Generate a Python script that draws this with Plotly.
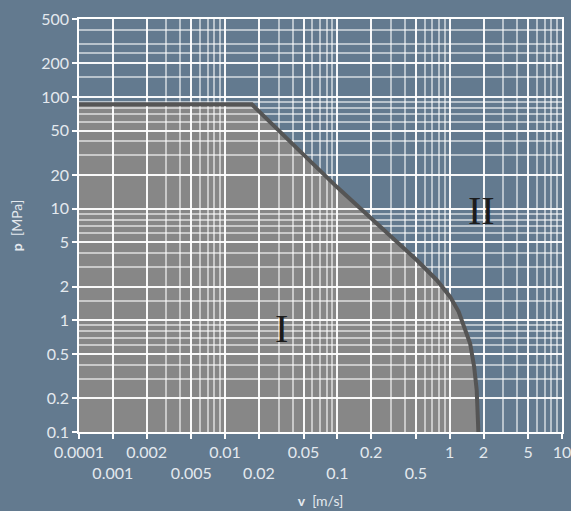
import numpy as np
import plotly.graph_objects as go

# ---- data ----
v_curve = [0.0005, 0.0173, 0.0986, 0.508, 0.766, 1.007, 1.20, 1.32, 1.52, 1.65, 1.74, 1.80]
p_curve = [86, 86, 15.7, 3.47, 2.30, 1.63, 1.2, 0.94, 0.62, 0.385, 0.238, 0.1]

x_major = [0.0005, 0.001, 0.002, 0.005, 0.01, 0.02, 0.05, 0.1, 0.2, 0.5, 1, 2, 5, 10]
x_labels = ["0.0001", "<br>0.001", "0.002", "<br>0.005", "0.01", "<br>0.02", "0.05",
            "<br>0.1", "0.2", "<br>0.5", "1", "2", "5", "10"]
x_minor = [0.003, 0.004, 0.006, 0.007, 0.008, 0.009,
           0.03, 0.04, 0.06, 0.07, 0.08, 0.09,
           0.3, 0.4, 0.6, 0.7, 0.8, 0.9,
           3, 4, 6, 7, 8, 9]

y_major = [0.1, 0.2, 0.5, 1, 2, 5, 10, 20, 50, 100, 200, 500]
y_labels = ["0.1", "0.2", "0.5", "1", "2", "5", "10", "20", "50", "100", "200", "500"]
y_minor = [0.3, 0.4, 0.6, 0.7, 0.8, 0.9, 1.5, 3, 4, 6, 7, 8, 9,
           30, 40, 60, 70, 80, 90, 150, 250, 300, 400]

x_range = [0.0005, 10]
y_range = [0.1, 500]

regions = ["I", "II"]
region_v = [0.032, 1.93]
region_p = [0.85, 9.6]

# ---- styles ----
BG = "#637a8f"
FILL = "#878787"
LINE = "#555555"
TXT = "#e4e9ee"

fig = go.Figure()

# fill region (shape below grid so gridlines show on top)
fx = v_curve + [v_curve[0]]
fy = p_curve + [y_range[0]]
path = "M " + " L ".join(f"{a},{b}" for a, b in zip(fx, fy)) + " Z"
fig.add_shape(type="path", path=path, xref="x", yref="y", layer="below",
              fillcolor=FILL, line=dict(width=0))

fig.add_trace(go.Scatter(x=v_curve, y=p_curve, mode="lines",
                         line=dict(color=LINE, width=4), hoverinfo="skip",
                         showlegend=False))

for t, vv, pp in zip(regions, region_v, region_p):
    fig.add_annotation(x=np.log10(vv), y=np.log10(pp), text=t, showarrow=False,
                       font=dict(family="Liberation Serif", size=40, color="#1c1c1c"),
                       xanchor="center", yanchor="middle")

axis_common = dict(
    type="log", showgrid=True, gridcolor="rgba(255,255,255,0.95)", gridwidth=1.5,
    ticks="outside", ticklen=5, tickwidth=1.5, tickcolor="white",
    showline=True, linecolor="white", linewidth=1.5, mirror=True, automargin=False,
    zeroline=False, tickfont=dict(family="Lato", size=16, color=TXT),
    ticklabeloverflow="allow",
)

fig.update_xaxes(
    **axis_common,
    range=[np.log10(x_range[0]), np.log10(x_range[1])],
    tickmode="array", tickvals=x_major, ticktext=x_labels, tickangle=0,
    minor=dict(tickmode="array", tickvals=x_minor, showgrid=True,
               gridcolor="rgba(255,255,255,0.55)", gridwidth=1.5, ticks=""),
    title=dict(text="<b>v</b>  [m/s]", font=dict(family="Lato", size=14, color=TXT), standoff=15),
)
fig.update_yaxes(
    **axis_common,
    range=[np.log10(y_range[0]), np.log10(y_range[1])],
    tickmode="array", tickvals=y_major, ticktext=y_labels,
    minor=dict(tickmode="array", tickvals=y_minor, showgrid=True,
               gridcolor="rgba(255,255,255,0.55)", gridwidth=1.5, ticks=""),
    title=dict(text="<b>p</b>  [MPa]", font=dict(family="Lato", size=14, color=TXT), standoff=15),
)

fig.update_layout(
    width=571, height=511,
    margin=dict(l=79, r=9, t=19, b=79),
    paper_bgcolor=BG, plot_bgcolor=BG,
    showlegend=False,
)

fig.write_html("out.html", config={"displayModeBar": False},
               post_script="document.body.style.margin='0px';document.body.style.background='%s';" % BG)
